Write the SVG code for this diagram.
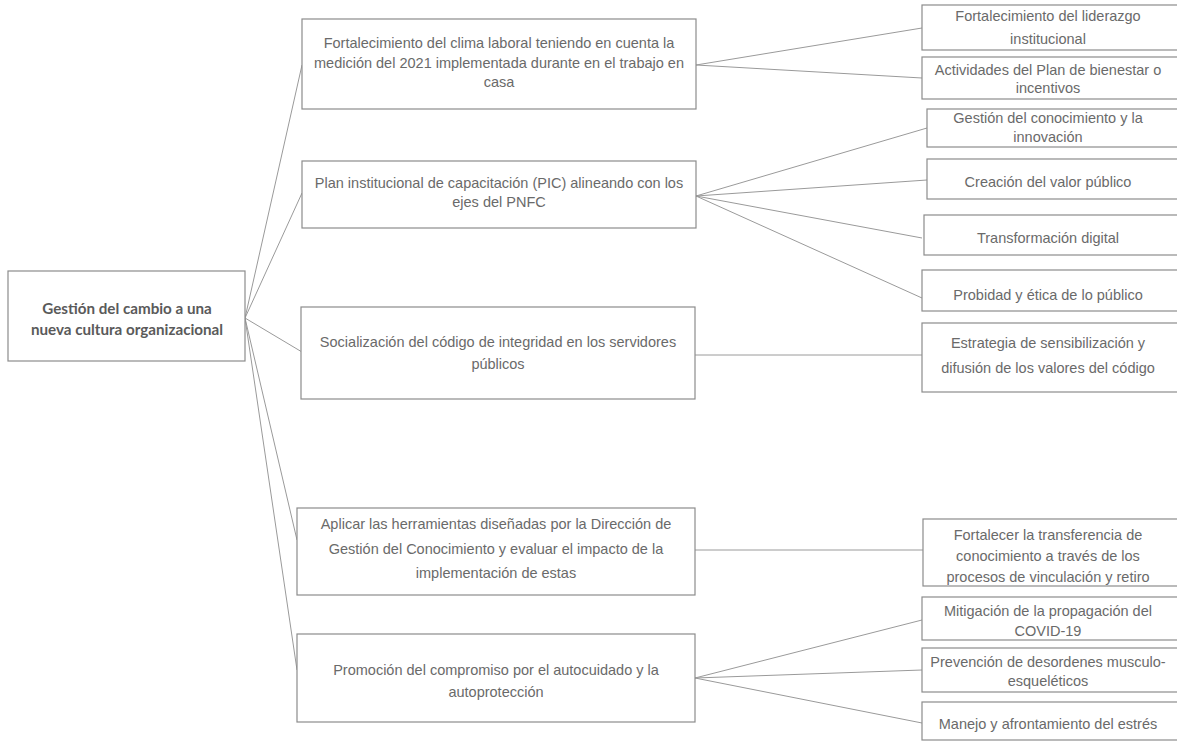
<svg xmlns="http://www.w3.org/2000/svg" width="1177" height="744" viewBox="0 0 1177 744">
<style>
.box{fill:#fff;stroke:#8c8c8c;stroke-width:1.2}
.t{font-family:"Liberation Sans",Arial,sans-serif;font-size:14.5px;fill:#6a6a6a;text-anchor:middle;dominant-baseline:central}
.r{font-family:Lato,"Liberation Sans",sans-serif;font-size:15.2px;font-weight:bold;fill:#5a5a5a;text-anchor:middle;dominant-baseline:central}
.c{stroke:#9a9a9a;stroke-width:1;fill:none}
</style>
<rect width="1177" height="744" fill="#fff"/>
<g id="connectors">
<path class="c" d="M245 318L302 65M245 318L302 193M245 318L302 352M245 318L297 540M245 318L297 670"/>
<path class="c" d="M696 65L922 28M696 65L922 78"/>
<path class="c" d="M696 196L927 128M696 196L927 180M696 196L922 238M696 196L922 298"/>
<path class="c" d="M695 355L922 355"/>
<path class="c" d="M695 550L923 550"/>
<path class="c" d="M695 678L922 620M695 678L922 670M695 678L922 723"/>
</g>
<g id="root">
<rect class="box" x="8" y="271" width="237" height="90"/>
<text class="r" x="127" y="308">Gestión del cambio a una</text>
<text class="r" x="127" y="329">nueva cultura organizacional</text>
</g>
<g id="m1">
<rect class="box" x="302" y="19" width="394" height="90"/>
<text class="t" x="499" y="43">Fortalecimiento del clima laboral teniendo en cuenta la</text>
<text class="t" x="499" y="63">medición del 2021 implementada durante en el trabajo en</text>
<text class="t" x="499" y="82">casa</text>
</g>
<g id="m2">
<rect class="box" x="302" y="161" width="394" height="67"/>
<text class="t" x="499" y="183">Plan institucional de capacitación (PIC) alineando con los</text>
<text class="t" x="499" y="202">ejes del PNFC</text>
</g>
<g id="m3">
<rect class="box" x="301" y="307" width="394" height="92"/>
<text class="t" x="498" y="342">Socialización del código de integridad en los servidores</text>
<text class="t" x="498" y="364">públicos</text>
</g>
<g id="m4">
<rect class="box" x="297" y="508" width="398" height="87"/>
<text class="t" x="496" y="524">Aplicar las herramientas diseñadas por la Dirección de</text>
<text class="t" x="496" y="549">Gestión del Conocimiento y evaluar el impacto de la</text>
<text class="t" x="496" y="573">implementación de estas</text>
</g>
<g id="m5">
<rect class="box" x="297" y="634" width="398" height="88"/>
<text class="t" x="496" y="670">Promoción del compromiso por el autocuidado y la</text>
<text class="t" x="496" y="692">autoprotección</text>
</g>
<g id="r1">
<rect class="box" x="922" y="5" width="260" height="45"/>
<text class="t" x="1048" y="16">Fortalecimiento del liderazgo</text>
<text class="t" x="1048" y="39">institucional</text>
</g>
<g id="r2">
<rect class="box" x="922" y="57" width="260" height="42"/>
<text class="t" x="1048" y="70">Actividades del Plan de bienestar o</text>
<text class="t" x="1048" y="88">incentivos</text>
</g>
<g id="r3">
<rect class="box" x="927" y="109" width="260" height="38"/>
<text class="t" x="1048" y="118">Gestión del conocimiento y la</text>
<text class="t" x="1048" y="137">innovación</text>
</g>
<g id="r4">
<rect class="box" x="927" y="159" width="260" height="40"/>
<text class="t" x="1048" y="182">Creación del valor público</text>
</g>
<g id="r5">
<rect class="box" x="924" y="215" width="260" height="40"/>
<text class="t" x="1048" y="238">Transformación digital</text>
</g>
<g id="r6">
<rect class="box" x="922" y="270" width="260" height="41"/>
<text class="t" x="1048" y="295">Probidad y ética de lo público</text>
</g>
<g id="r7">
<rect class="box" x="922" y="323" width="260" height="69"/>
<text class="t" x="1048" y="343">Estrategia de sensibilización y</text>
<text class="t" x="1048" y="368">difusión de los valores del código</text>
</g>
<g id="r8">
<rect class="box" x="923" y="519" width="260" height="67"/>
<text class="t" x="1048" y="535">Fortalecer la transferencia de</text>
<text class="t" x="1048" y="556">conocimiento a través de los</text>
<text class="t" x="1048" y="577">procesos de vinculación y retiro</text>
</g>
<g id="r9">
<rect class="box" x="922" y="597" width="260" height="43"/>
<text class="t" x="1048" y="611">Mitigación de la propagación del</text>
<text class="t" x="1048" y="631">COVID-19</text>
</g>
<g id="r10">
<rect class="box" x="922" y="648" width="260" height="44"/>
<text class="t" x="1048" y="662">Prevención de desordenes musculo-</text>
<text class="t" x="1048" y="681">esqueléticos</text>
</g>
<g id="r11">
<rect class="box" x="922" y="702" width="260" height="38"/>
<text class="t" x="1048" y="724">Manejo y afrontamiento del estrés</text>
</g>
</svg>
